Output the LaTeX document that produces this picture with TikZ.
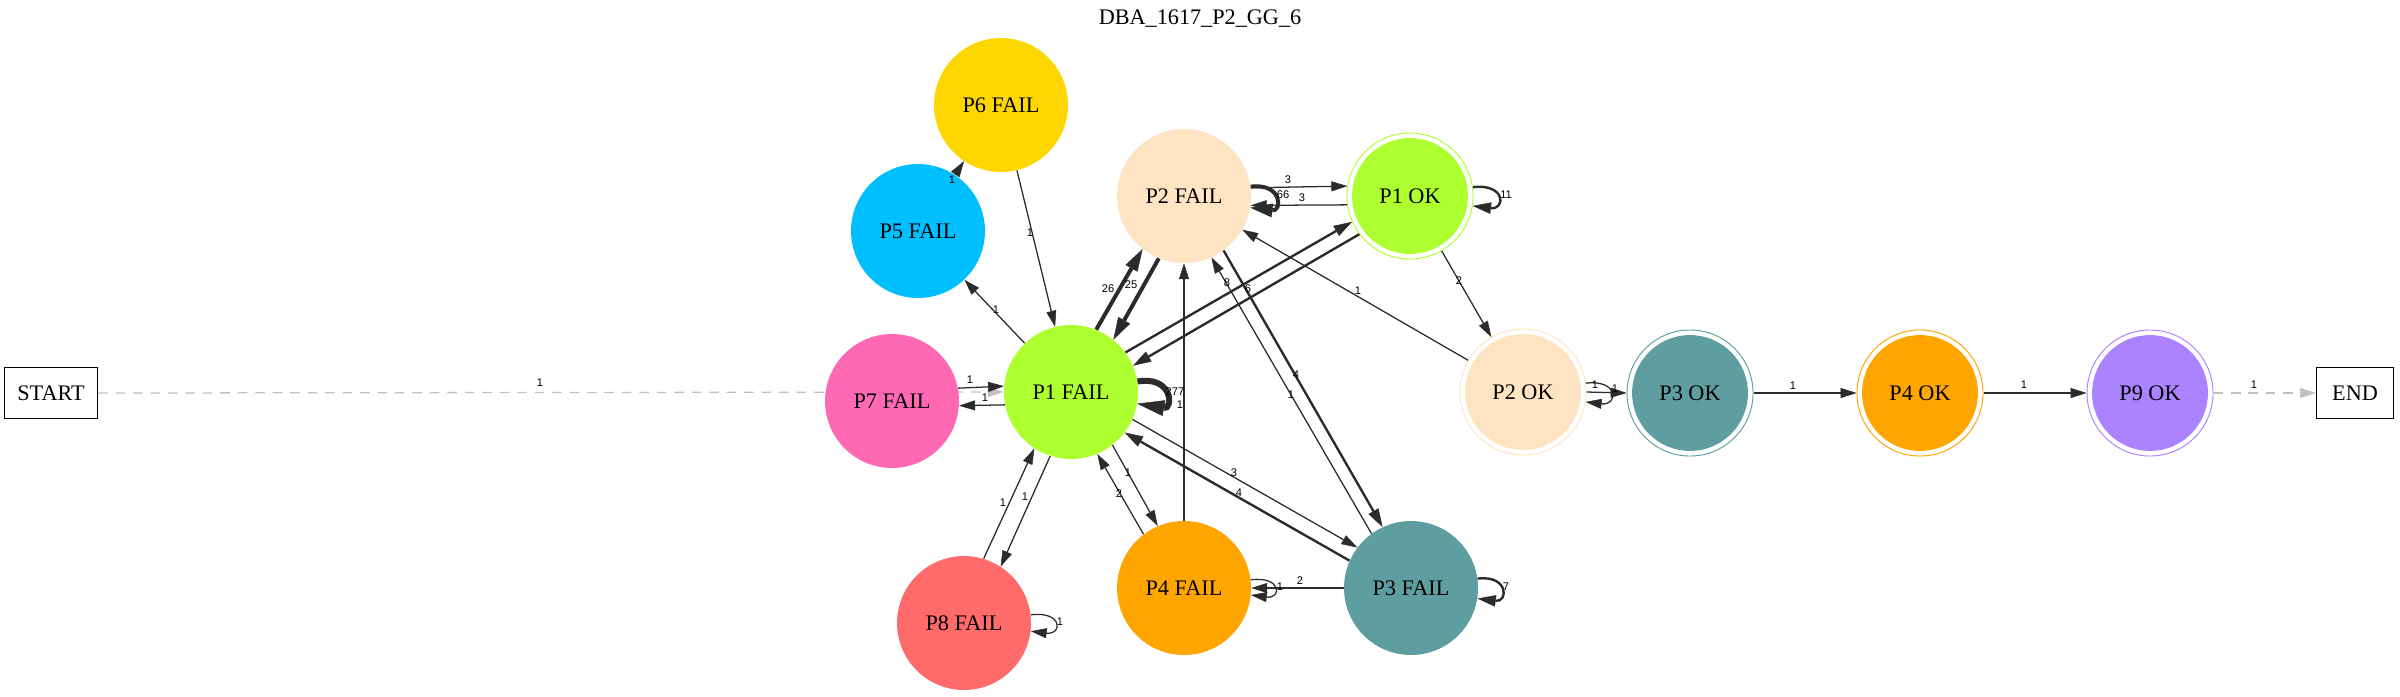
\documentclass[tikz,border=0pt]{standalone}
\usepackage{fontspec}
\setmainfont{Liberation Serif}
\newfontfamily\lblfont{Liberation Sans}
\usetikzlibrary{arrows.meta}
\pgfdeclarelayer{bg}
\pgfsetlayers{bg,main}
\definecolor{ecol}{HTML}{2B2B2B}
\definecolor{gcol}{HTML}{C0C0C0}
\definecolor{cp1}{HTML}{ADFF2F}
\definecolor{cp2}{HTML}{FFE4C4}
\definecolor{cp3}{HTML}{5F9EA0}
\definecolor{cp4}{HTML}{FFA500}
\definecolor{cp5}{HTML}{00BFFF}
\definecolor{cp6}{HTML}{FFD700}
\definecolor{cp7}{HTML}{FF69B4}
\definecolor{cp8}{HTML}{FF6A6A}
\definecolor{cp9}{HTML}{AB82FF}
\begin{document}
\begin{tikzpicture}[x=0.63pt,y=-0.63pt,
  nfont/.style={font=\fontsize{14}{16}\selectfont},
  fail/.style={circle, fill=#1, minimum size=84.4pt, inner sep=0pt, nfont},
  ok/.style={circle, draw=#1, line width=0.6pt, fill=white, minimum size=79.4pt, inner sep=0pt, nfont,
    path picture={\fill[#1] (path picture bounding box.center) circle[radius=36.5pt];}},
  term/.style={draw=black, line width=0.8pt, fill=white, minimum height=32pt, inner sep=0pt, nfont},
  lbl/.style={font=\lblfont\fontsize{7}{8}\selectfont, inner sep=0pt, text=black},
  e1/.style={draw=ecol, line width=0.8pt, -{Triangle[length=10pt,width=6.3pt,line width=0.3pt]}},
  e2/.style={draw=ecol, line width=1.5pt, -{Triangle[length=11.5pt,width=7.2pt,line width=0.3pt]}},
  e3/.style={draw=ecol, line width=2.5pt, -{Triangle[length=14pt,width=8.6pt,line width=0.3pt]}},
  e4/.style={draw=ecol, line width=3.8pt, -{Triangle[length=17pt,width=10pt,line width=0.3pt]}},
  ed/.style={draw=gcol, line width=0.8pt, dash pattern=on 6pt off 5pt, -{Triangle[length=10pt,width=6.3pt,line width=0.3pt]}},
]
\useasboundingbox (0,0) rectangle (2400,696);

\node[nfont] (title) at (1200,19) {DBA\_1617\_P2\_GG\_6};

\node[term, minimum width=58.6pt] (START) at (51,393) {START};
\node[term, minimum width=48.5pt] (END) at (2355,393) {END};
\node[fail=cp7] (P7F) at (892,401) {P7 FAIL};
\node[fail=cp1] (P1F) at (1071,392) {P1 FAIL};
\node[fail=cp5] (P5F) at (918,231) {P5 FAIL};
\node[fail=cp6] (P6F) at (1001,105) {P6 FAIL};
\node[fail=cp2] (P2F) at (1184,196) {P2 FAIL};
\node[ok=cp1] (P1O) at (1410,196) {P1 OK};
\node[ok=cp2] (P2O) at (1523,392) {P2 OK};
\node[ok=cp3] (P3O) at (1690,393) {P3 OK};
\node[ok=cp4] (P4O) at (1920,393) {P4 OK};
\node[ok=cp9] (P9O) at (2150,393) {P9 OK};
\node[fail=cp8] (P8F) at (964,623) {P8 FAIL};
\node[fail=cp4] (P4F) at (1184,588) {P4 FAIL};
\node[fail=cp3] (P3F) at (1411,588) {P3 FAIL};

\begin{pgfonlayer}{bg}
\draw[ed] (START.east) -- (P1F.180);
\end{pgfonlayer}

\draw[e1] (P1F) -- (P5F);
\draw[e1] (P6F) -- (P1F);
\draw[e1] (P5F) -- (P6F);
\draw[e1] (P7F.11) -- (P1F.175);
\draw[e1] (P1F.-169) -- (P7F.-4);
\draw[e4] (P1F.9) .. controls +(36,-6) and +(36,6) .. (P1F.-10);
\draw[e3] (P1F.68) -- (P2F.-128);
\draw[e3] (P2F.-112) -- (P1F.51.5);
\draw[e2] (P1F.36.5) -- (P1O.-156);
\draw[e2] (P1O.-143) -- (P1F.23);
\draw[e1] (P1F.-108) -- (P8F.57);
\draw[e1] (P8F.73) -- (P1F.-123);
\draw[e1] (P8F.7.5) .. controls +(32,-4) and +(32,4) .. (P8F.-7.7);
\draw[e1] (P1F.-52.6) -- (P4F.113);
\draw[e1] (P4F.127) -- (P1F.-67.6);
\draw[e1] (P4F.north) -- (P2F.south);
\draw[e1] (P1F.-24) -- (P3F.143.5);
\draw[e2] (P3F.156.5) -- (P1F.-37.6);
\draw[e2] (P2F.-54.5) -- (P3F.115);
\draw[e1] (P3F.126) -- (P2F.-66);
\draw[e1] (P3F.west) -- (P4F.east);
\draw[e1] (P4F.7.5) .. controls +(31,-4) and +(31,4) .. (P4F.-6);
\draw[e2] (P3F.8.5) .. controls +(31,-4) and +(31,4) .. (P3F.-9);
\draw[e3] (P2F.8.4) .. controls +(32,-4) and +(32,4) .. (P2F.-10);
\draw[e1] (P2F.7.6) -- (P1O.171.6);
\draw[e1] (P1O.-172) -- (P2F.-8);
\draw[e2] (P1O.8) .. controls +(33,-4) and +(33,4) .. (P1O.-9);
\draw[e1] (P1O) -- (P2O);
\draw[e1] (P2O) -- (P2F);
\draw[e1] (P2O.east) -- (P3O.west);
\draw[e1] (P2O.8) .. controls +(33,-4) and +(33,4) .. (P2O.-9);
\draw[e1] (P3O) -- (P4O);
\draw[e1] (P4O) -- (P9O);
\draw[ed] (P9O) -- (END);

\node[lbl] (l01) at (540,383) {1};
\node[lbl] (l02) at (996,310) {1};
\node[lbl] (l03) at (1030,233) {1};
\node[lbl] (l04) at (952,180) {1};
\node[lbl] (l05) at (970,380) {1};
\node[lbl] (l06) at (985,398) {1};
\node[lbl] (l07) at (1175,392) {277};
\node[lbl] (l08) at (1108,289) {26};
\node[lbl] (l09) at (1131,285) {25};
\node[lbl] (l10) at (1227,283) {8};
\node[lbl] (l11) at (1248,289) {6};
\node[lbl] (l12) at (1025,497) {1};
\node[lbl] (l13) at (1003,503) {1};
\node[lbl] (l14) at (1060,622) {1};
\node[lbl] (l15) at (1128,473) {1};
\node[lbl] (l16) at (1119,494) {2};
\node[lbl] (l17) at (1180,405) {1};
\node[lbl] (l18) at (1234,473) {3};
\node[lbl] (l19) at (1239,493) {4};
\node[lbl] (l20) at (1296,375) {4};
\node[lbl] (l21) at (1291,395) {1};
\node[lbl] (l22) at (1300,581) {2};
\node[lbl] (l23) at (1280,587) {1};
\node[lbl] (l24) at (1506,587) {7};
\node[lbl] (l25) at (1283,195) {66};
\node[lbl] (l26) at (1288,180) {3};
\node[lbl] (l27) at (1302,198) {3};
\node[lbl] (l28) at (1506,195) {11};
\node[lbl] (l29) at (1459,281) {2};
\node[lbl] (l30) at (1358,291) {1};
\node[lbl] (l31) at (1595,385) {1};
\node[lbl] (l32) at (1615,389) {1};
\node[lbl] (l33) at (1793,386) {1};
\node[lbl] (l34) at (2024,385) {1};
\node[lbl] (l35) at (2254,385) {1};
\end{tikzpicture}
\end{document}
